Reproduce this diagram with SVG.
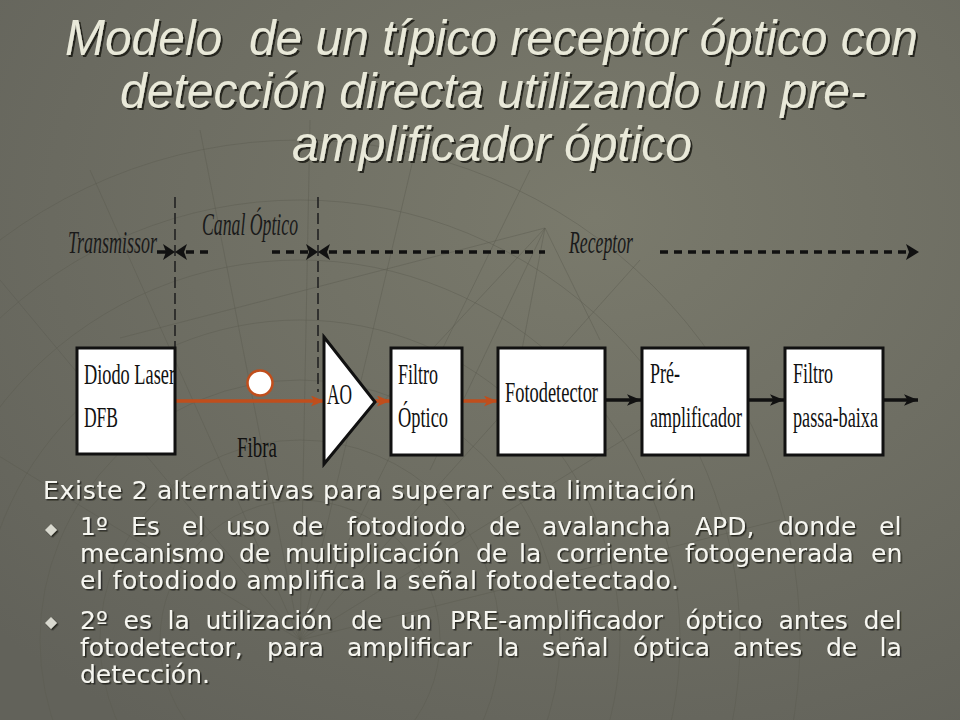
<svg xmlns="http://www.w3.org/2000/svg" width="960" height="720" viewBox="0 0 960 720">
  <defs>
    <radialGradient id="bg" cx="0.62" cy="0.3" r="0.85">
      <stop offset="0" stop-color="#7a7a6c"/>
      <stop offset="1" stop-color="#62625a"/>
    </radialGradient>
    <filter id="shTitle" x="-5%" y="-20%" width="110%" height="140%">
      <feDropShadow dx="2" dy="2" stdDeviation="0.6" flood-color="#1a1a14" flood-opacity="0.9"/>
    </filter>
    <filter id="shBody" x="-5%" y="-20%" width="110%" height="140%">
      <feDropShadow dx="1.5" dy="1.5" stdDeviation="0.6" flood-color="#1e1e18" flood-opacity="0.85"/>
    </filter>
    <marker id="headOrange" viewBox="0 0 12 10" refX="12" refY="5" markerWidth="13" markerHeight="11" markerUnits="userSpaceOnUse" orient="auto">
      <path d="M0,0 L12,5 L0,10 L3,5 Z" fill="#c04e1c"/>
    </marker>
    <marker id="headBlack" viewBox="0 0 12 10" refX="12" refY="5" markerWidth="14" markerHeight="13" markerUnits="userSpaceOnUse" orient="auto">
      <path d="M0,0 L12,5 L0,10 L3,5 Z" fill="#111"/>
    </marker>
    <style>
      .title { font-family: "Liberation Sans", Arial, sans-serif; font-style: italic; font-size: 50px; fill: #e9e9d9; }
      .body { font-family: "DejaVu Sans", Verdana, sans-serif; font-size: 25px; fill: #f6f6f0; }
      .box { fill: #ffffff; stroke: #111; stroke-width: 3; }
      .lbl { font-family: "Liberation Serif", "Times New Roman", serif; font-size: 30px; fill: #111; }
      .stage { font-family: "Liberation Serif", "Times New Roman", serif; font-style: italic; font-size: 32px; fill: #1a1a1a; }
      .orange { stroke: #c04e1c; stroke-width: 3.5; fill: none; }
      .sig { stroke: #111; stroke-width: 3.5; fill: none; }
      .dashH { stroke: #111; stroke-width: 3.5; fill: none; stroke-dasharray: 8 6; }
      .dashV { stroke: #222; stroke-width: 1.6; fill: none; stroke-dasharray: 11 5; }
      .deco { stroke: #5a5a4f; stroke-width: 1; fill: none; opacity: 0.45; }
    </style>
  </defs>

  <rect x="0" y="0" width="960" height="720" fill="url(#bg)"/>

  <g id="background-grid">
    <circle class="deco" cx="300" cy="640" r="140"/>
    <circle class="deco" cx="300" cy="640" r="200"/>
    <circle class="deco" cx="300" cy="640" r="260"/>
    <circle class="deco" cx="300" cy="640" r="320"/>
    <circle class="deco" cx="300" cy="640" r="380"/>
    <circle class="deco" cx="300" cy="640" r="440"/>
    <circle class="deco" cx="300" cy="640" r="500"/>
    <path class="deco" d="M300,640 L-60,420 M300,640 L0,280 M300,640 L90,170 M300,640 L200,130 M300,640 L310,120 M300,640 L420,130 M300,640 L530,170 M300,640 L640,260 M300,640 L720,380 M300,640 L780,520"/>
    <path class="deco" d="M545,228 L120,338 M545,228 L380,405 M545,228 L430,470 M545,228 L520,360 M545,228 L600,340"/>
  </g>

  <g id="title" filter="url(#shTitle)">
    <text class="title" x="65" y="55" textLength="853" lengthAdjust="spacingAndGlyphs">Modelo&#160; de un típico receptor óptico con</text>
    <text class="title" x="120" y="108" textLength="746" lengthAdjust="spacingAndGlyphs">detección directa utilizando un pre-</text>
    <text class="title" x="292" y="161" textLength="400" lengthAdjust="spacingAndGlyphs">amplificador óptico</text>
  </g>

  <g id="connectors">
    <line class="dashV" x1="175" y1="197" x2="175" y2="347"/>
    <line class="dashV" x1="318" y1="197" x2="318" y2="392"/>
    <line class="sig" x1="157" y1="252" x2="170" y2="252"/>
    <line class="dashH" x1="186" y1="252" x2="214" y2="252"/>
    <line class="dashH" x1="272" y1="252" x2="308" y2="252"/>
    <line class="dashH" x1="329" y1="252" x2="545" y2="252"/>
    <line class="dashH" x1="660" y1="252" x2="908" y2="252"/>
    <polygon points="163,244 175,252 163,260 166,252" fill="#111"/>
    <polygon points="187,244 175,252 187,260 184,252" fill="#111"/>
    <polygon points="306,244 318,252 306,260 309,252" fill="#111"/>
    <polygon points="330,244 318,252 330,260 327,252" fill="#111"/>
    <polygon points="906,244 919,252 906,260 909,252" fill="#111"/>
    <line class="orange" x1="175" y1="401" x2="324" y2="401" marker-end="url(#headOrange)"/>
    <line class="orange" x1="375" y1="401" x2="390" y2="401" marker-end="url(#headOrange)"/>
    <line class="orange" x1="462" y1="401" x2="497" y2="401" marker-end="url(#headOrange)"/>
    <line class="sig" x1="605" y1="400" x2="641" y2="400" marker-end="url(#headBlack)"/>
    <line class="sig" x1="748" y1="400" x2="784" y2="400" marker-end="url(#headBlack)"/>
    <line class="sig" x1="883" y1="400" x2="918" y2="400" marker-end="url(#headBlack)"/>
  </g>

  <g id="stage-transmissor">
    <text class="stage" x="68" y="253" textLength="89" lengthAdjust="spacingAndGlyphs">Transmissor</text>
  </g>
  <g id="stage-canal">
    <text class="stage" x="202" y="235" textLength="96" lengthAdjust="spacingAndGlyphs">Canal Óptico</text>
  </g>
  <g id="stage-receptor">
    <text class="stage" x="569" y="253" textLength="64" lengthAdjust="spacingAndGlyphs">Receptor</text>
  </g>

  <g id="node-laser">
    <rect class="box" x="77" y="348" width="98" height="106"/>
    <text class="lbl" x="84" y="384" textLength="91" lengthAdjust="spacingAndGlyphs">Diodo Laser</text>
    <text class="lbl" x="84" y="427" textLength="34" lengthAdjust="spacingAndGlyphs">DFB</text>
  </g>

  <g id="node-fibra">
    <circle cx="260" cy="383" r="12.5" fill="#fff" stroke="#c04e1c" stroke-width="2.5"/>
    <text class="lbl" x="237" y="457" font-size="32" textLength="40" lengthAdjust="spacingAndGlyphs">Fibra</text>
  </g>

  <g id="node-ao">
    <polygon points="324,337 375,402 324,464" fill="#fff" stroke="#111" stroke-width="3" stroke-linejoin="miter"/>
    <text class="lbl" x="327" y="404" textLength="25" lengthAdjust="spacingAndGlyphs">AO</text>
  </g>

  <g id="node-filtro-optico">
    <rect class="box" x="391" y="348" width="71" height="107"/>
    <text class="lbl" x="398" y="384" textLength="40" lengthAdjust="spacingAndGlyphs">Filtro</text>
    <text class="lbl" x="398" y="427" textLength="50" lengthAdjust="spacingAndGlyphs">Óptico</text>
  </g>

  <g id="node-fotodetector">
    <rect class="box" x="498" y="348" width="107" height="107"/>
    <text class="lbl" x="505" y="402" font-size="31" textLength="93" lengthAdjust="spacingAndGlyphs">Fotodetector</text>
  </g>

  <g id="node-preamp">
    <rect class="box" x="642" y="348" width="106" height="107"/>
    <text class="lbl" x="650" y="383" textLength="30" lengthAdjust="spacingAndGlyphs">Pré-</text>
    <text class="lbl" x="650" y="427" textLength="92" lengthAdjust="spacingAndGlyphs">amplificador</text>
  </g>

  <g id="node-filtro-pb">
    <rect class="box" x="785" y="348" width="98" height="107"/>
    <text class="lbl" x="793" y="383" textLength="40" lengthAdjust="spacingAndGlyphs">Filtro</text>
    <text class="lbl" x="793" y="427" textLength="85" lengthAdjust="spacingAndGlyphs">passa-baixa</text>
  </g>

  <g id="body-text" filter="url(#shBody)">
    <text class="body" x="43" y="499" textLength="652" lengthAdjust="spacing">Existe 2 alternativas para superar esta limitación</text>
    <polygon points="51,524 57,530 51,536 45,530" fill="#d9d9cf"/>
    <text class="body" y="535"><tspan x="80">1º</tspan> <tspan x="131">Es</tspan> <tspan x="182">el</tspan> <tspan x="226">uso</tspan> <tspan x="292">de</tspan> <tspan x="347">fotodiodo</tspan> <tspan x="489">de</tspan> <tspan x="542">avalancha</tspan> <tspan x="695">APD,</tspan> <tspan x="778">donde</tspan> <tspan x="879">el</tspan></text>
    <text class="body" y="562"><tspan x="80">mecanismo</tspan> <tspan x="239">de</tspan> <tspan x="285">multiplicación</tspan> <tspan x="476">de</tspan> <tspan x="519">la</tspan> <tspan x="556">corriente</tspan> <tspan x="685">fotogenerada</tspan> <tspan x="871">en</tspan></text>
    <text class="body" x="80" y="589" textLength="599" lengthAdjust="spacing">el fotodiodo amplifica la señal fotodetectado.</text>
    <polygon points="51,617 57,623 51,629 45,623" fill="#d9d9cf"/>
    <text class="body" y="629"><tspan x="80">2º</tspan> <tspan x="123.5">es</tspan> <tspan x="167.5">la</tspan> <tspan x="205.5">utilización</tspan> <tspan x="351">de</tspan> <tspan x="400">un</tspan> <tspan x="450">PRE-amplificador</tspan> <tspan x="685.5">óptico</tspan> <tspan x="778.5">antes</tspan> <tspan x="863.5">del</tspan></text>
    <text class="body" y="656"><tspan x="80">fotodetector,</tspan> <tspan x="267">para</tspan> <tspan x="347">amplificar</tspan> <tspan x="497">la</tspan> <tspan x="542">señal</tspan> <tspan x="633">óptica</tspan> <tspan x="733">antes</tspan> <tspan x="826">de</tspan> <tspan x="879.5">la</tspan></text>
    <text class="body" x="80" y="683">detección.</text>
  </g>
</svg>
